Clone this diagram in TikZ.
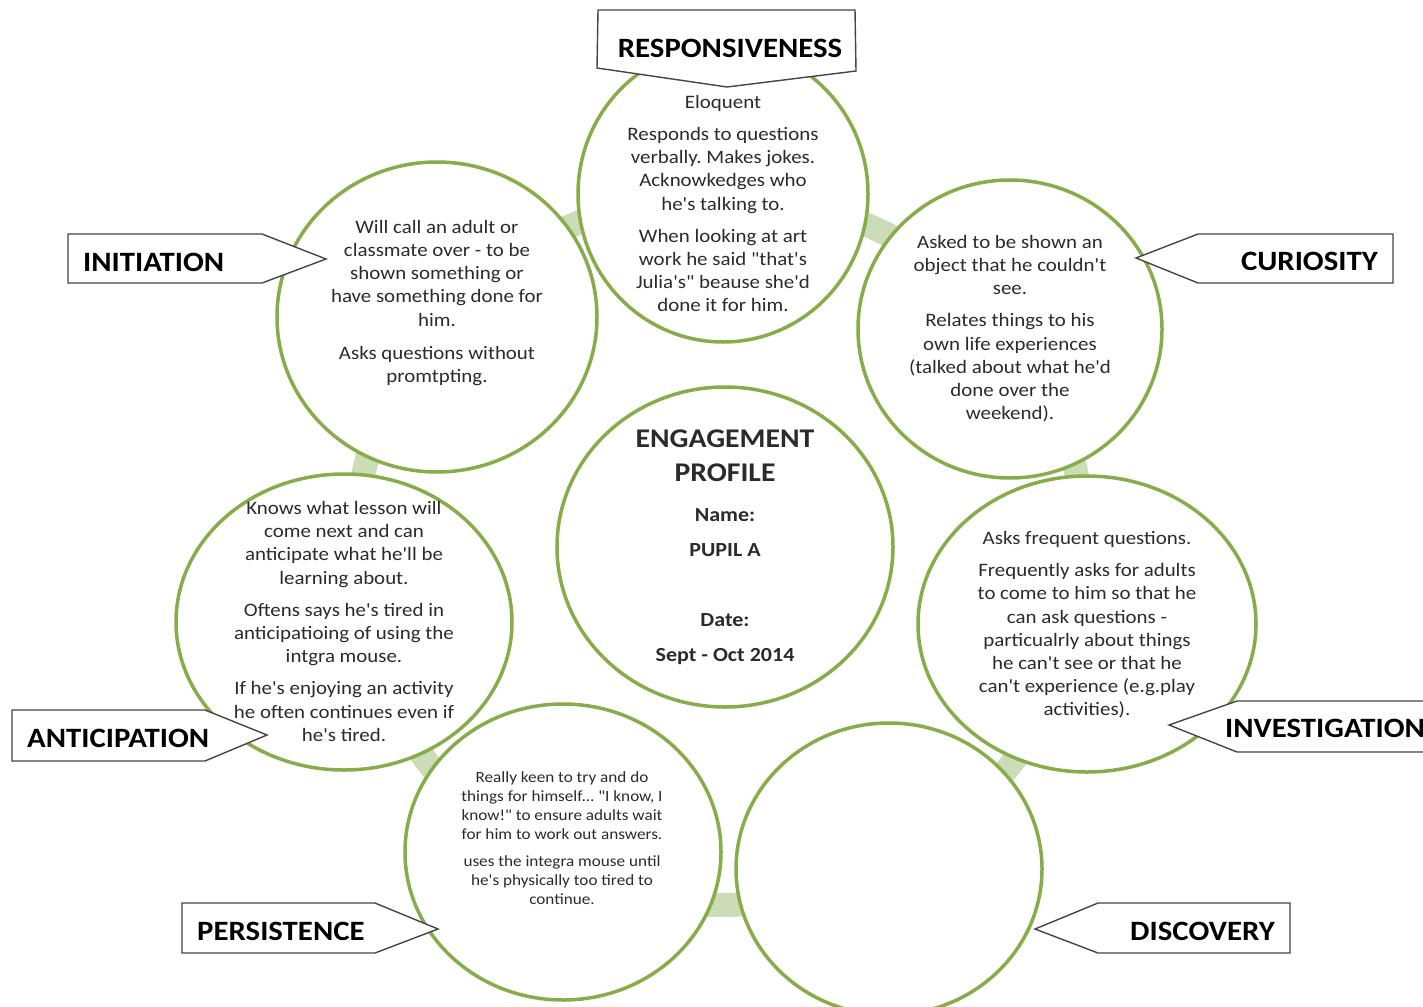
\documentclass[tikz,border=0pt]{standalone}
\usepackage{fontspec}
\setmainfont{Carlito}[FakeStretch=1.1, Ligatures=TeXOff]
\usetikzlibrary{shapes.geometric}
\definecolor{ringgreen}{HTML}{86AD4A}
\definecolor{bandgreen}{HTML}{CCDCB6}
\definecolor{bodytext}{HTML}{2B2B2B}
\definecolor{tagline}{HTML}{454545}
\frenchspacing
\begin{document}
\begin{tikzpicture}[x=1pt,y=-1pt,
  bubble/.style={ellipse, draw=ringgreen, line width=3.5pt, fill=white, inner sep=0pt},
  body/.style={align=center, inner sep=0pt, text=bodytext, anchor=north,
    font=\fontsize{19}{23.2}\selectfont},
  small/.style={body, font=\fontsize{15.6}{19}\selectfont},
  tag/.style={draw=tagline, line width=1.4pt, fill=white, line join=miter},
  tagtext/.style={font=\fontsize{28}{32}\selectfont\bfseries, inner sep=0pt, text=black},
  title/.style={font=\fontsize{27}{30}\selectfont\bfseries, inner sep=0pt, text=bodytext, anchor=base},
  field/.style={font=\fontsize{20}{24}\selectfont\bfseries, inner sep=0pt, text=bodytext, anchor=base}]
\useasboundingbox (0,0) rectangle (1423,1006);
\clip (0,0) rectangle (1423,1006);

% linking band behind the bubbles
\draw[bandgreen, line width=24pt] (720,550) ellipse [x radius=365, y radius=355];

% bubbles
\node[bubble, minimum width=336pt, minimum height=320pt] (core) at (725,547) {};
\node[bubble, minimum width=290pt, minimum height=296pt] (resp) at (723,194) {};
\node[bubble, minimum width=304pt, minimum height=298pt] (cur) at (1010,329) {};
\node[bubble, minimum width=320pt, minimum height=310pt] (init) at (437,317) {};
\node[bubble, minimum width=336pt, minimum height=296pt] (ant) at (344,622) {};
\node[bubble, minimum width=338pt, minimum height=296pt] (inv) at (1087,624) {};
\node[bubble, minimum width=316pt, minimum height=296pt] (pers) at (563,852) {};
\node[bubble, minimum width=306pt, minimum height=292pt] (disc) at (889,869) {};

% centre
\node[title] (eng) at (725,447) {ENGAGEMENT};
\node[title] (prof) at (725,481) {PROFILE};
\node[field] (namek) at (725,521) {Name:};
\node[field] (namev) at (725,556) {PUPIL A};
\node[field] (datek) at (725,626) {Date:};
\node[field] (datev) at (725,661) {Sept - Oct 2014};

% observations
\node[body] (resptxt) at (723,95) {Eloquent\\[9pt]Responds to questions\\verbally. Makes jokes.\\Acknowkedges who\\he's talking to.\\[9pt]When looking at art\\work he said "that's\\Julia's" beause she'd\\done it for him.};
\node[body] (inittxt) at (437,220) {Will call an adult or\\classmate over - to be\\shown something or\\have something done for\\him.\\[10pt]Asks questions without\\promtpting.};
\node[body] (curtxt) at (1010,235) {Asked to be shown an\\object that he couldn't\\see.\\[9pt]Relates things to his\\own life experiences\\(talked about what he'd\\done over the\\weekend).};
\node[body] (anttxt) at (344,501) {Knows what lesson will\\come next and can\\anticipate what he'll be\\learning about.\\[9pt]Oftens says he's tired in\\anticipatioing of using the\\intgra mouse.\\[9pt]If he's enjoying an activity\\he often continues even if\\he's tired.};
\node[body] (invtxt) at (1087,531) {Asks frequent questions.\\[9pt]Frequently asks for adults\\to come to him so that he\\can ask questions -\\particualrly about things\\he can't see or that he\\can't experience (e.g.play\\activities).};
\node[small] (perstxt) at (562,771) {Really keen to try and do\\things for himself... "I know, I\\know!" to ensure adults wait\\for him to work out answers.\\[8pt]uses the integra mouse until\\he's physically too tired to\\continue.};

% pointer tags
\draw[tag] (598,10) -- (855,10) -- (856,71) -- (727,87) -- (597,68) -- cycle;
\node[tagtext, anchor=base] (resptag) at (730,58) {RESPONSIVENESS};

\draw[tag] (68,234) -- (262,234) -- (326,259) -- (262,283) -- (68,283) -- cycle;
\node[tagtext, anchor=base west] (inittag) at (83,271) {INITIATION};

\draw[tag] (1393,234) -- (1198,234) -- (1136,258) -- (1198,283) -- (1393,283) -- cycle;
\node[tagtext, anchor=base east] (curtag) at (1378,270) {CURIOSITY};

\draw[tag] (12,710) -- (205,710) -- (267,735) -- (205,761) -- (12,761) -- cycle;
\node[tagtext, anchor=base west] (anttag) at (27,747) {ANTICIPATION};

\draw[tag] (1440,701) -- (1237,701) -- (1169,725) -- (1237,752) -- (1440,752) -- cycle;
\node[tagtext, anchor=base west] (invtag) at (1225,737) {INVESTIGATION};

\draw[tag] (182,903) -- (375,903) -- (438,929) -- (375,953) -- (182,953) -- cycle;
\node[tagtext, anchor=base west] (perstag) at (197,940) {PERSISTENCE};

\draw[tag] (1290,903) -- (1098,903) -- (1035,929) -- (1098,953) -- (1290,953) -- cycle;
\node[tagtext, anchor=base east] (disctag) at (1275,940) {DISCOVERY};
\end{tikzpicture}
\end{document}
